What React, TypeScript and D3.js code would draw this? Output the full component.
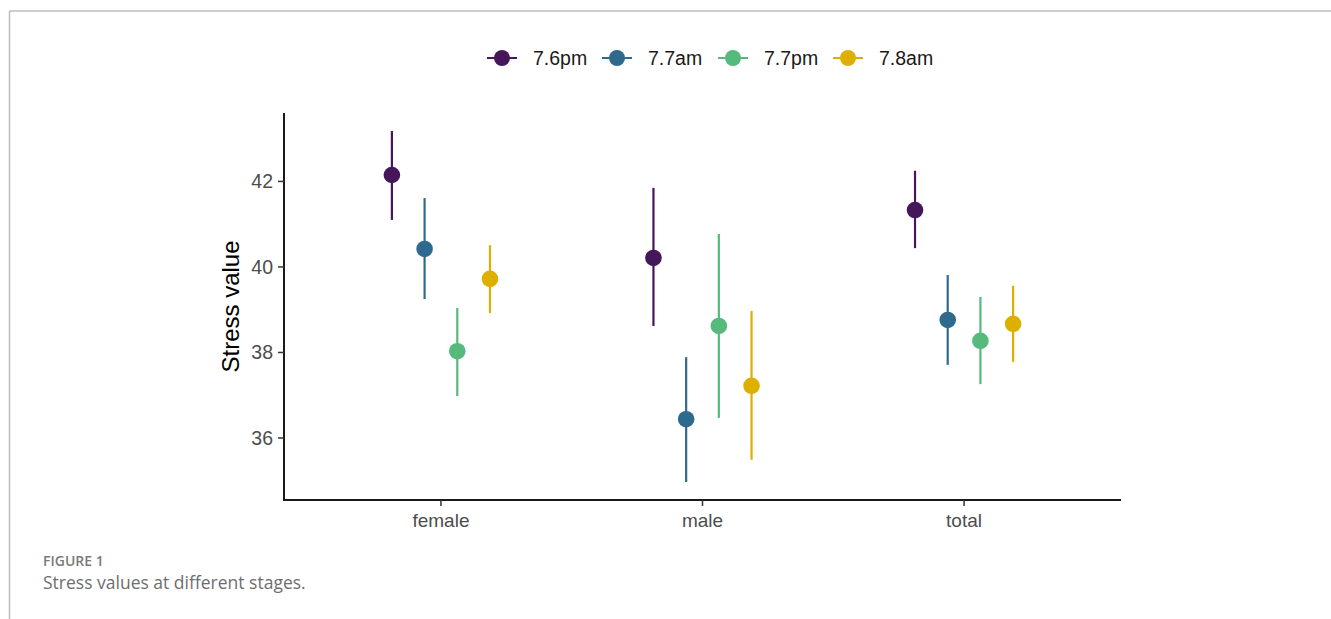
import React from "react";
import * as d3 from "d3";

const categories = ["female", "male", "total"];
const seriesNames = ["7.6pm", "7.7am", "7.7pm", "7.8am"];
const seriesColors = ["#45175A", "#2E6A8E", "#56BA7D", "#DDB000"];

// mean, lower, upper for each series per category
const means7_6pm = [42.15, 40.21, 41.33];
const lower7_6pm = [41.1, 38.62, 40.44];
const upper7_6pm = [43.18, 41.85, 42.25];

const means7_7am = [40.42, 36.44, 38.76];
const lower7_7am = [39.25, 34.97, 37.71];
const upper7_7am = [41.61, 37.89, 39.81];

const means7_7pm = [38.03, 38.62, 38.27];
const lower7_7pm = [36.98, 36.47, 37.26];
const upper7_7pm = [39.04, 40.77, 39.3];

const means7_8am = [39.72, 37.22, 38.67];
const lower7_8am = [38.92, 35.49, 37.78];
const upper7_8am = [40.51, 38.97, 39.56];

const yTicks = [36, 38, 40, 42];

const seriesData = [
  { mean: means7_6pm, lo: lower7_6pm, hi: upper7_6pm },
  { mean: means7_7am, lo: lower7_7am, hi: upper7_7am },
  { mean: means7_7pm, lo: lower7_7pm, hi: upper7_7pm },
  { mean: means7_8am, lo: lower7_8am, hi: upper7_8am },
];

export default function App() {
  const W = 1331;
  const H = 619;
  const plotL = 284;
  const plotR = 1121;
  const plotT = 113;
  const plotB = 500;

  const y = d3.scaleLinear().domain([34.55, 43.6]).range([plotB, plotT]);
  const x = d3
    .scaleLinear()
    .domain([-0.6, categories.length - 1 + 0.6])
    .range([plotL, plotR]);
  const dodge = 0.5;
  const n = seriesNames.length;
  const offset = (i: number) => -dodge / 2 + (dodge / n) * (i + 0.5);

  const font = "'Liberation Sans', Arimo, Arial, Helvetica, sans-serif";

  const legendX = [502, 617, 733, 848];

  return (
    <svg
      width={W}
      height={H}
      style={{ position: "absolute", left: 0, top: 0, background: "#fff" }}
    >
      {/* frame */}
      <line x1={9.5} y1={11} x2={W} y2={11} stroke="#bdbdbd" strokeWidth={1.5} />
      <line x1={9.5} y1={11} x2={9.5} y2={H} stroke="#bdbdbd" strokeWidth={1.5} />

      {/* legend */}
      {seriesNames.map((s, i) => (
        <g key={s}>
          <line
            x1={legendX[i] - 15}
            x2={legendX[i] + 15}
            y1={58}
            y2={58}
            stroke={seriesColors[i]}
            strokeWidth={2}
          />
          <circle cx={legendX[i]} cy={58} r={8} fill={seriesColors[i]} />
          <text
            x={legendX[i] + 31}
            y={58}
            dy="0.35em"
            style={{ fontFamily: font }}
            fontSize={19.5}
            fill="#1a1a1a"
          >
            {s}
          </text>
        </g>
      ))}

      {/* axes */}
      <line x1={plotL} x2={plotL} y1={plotT} y2={plotB + 1} stroke="#1a1a1a" strokeWidth={2} />
      <line x1={plotL - 1} x2={plotR} y1={plotB} y2={plotB} stroke="#1a1a1a" strokeWidth={2} />

      {yTicks.map((t) => (
        <g key={t}>
          <line
            x1={plotL - 6}
            x2={plotL}
            y1={y(t)}
            y2={y(t)}
            stroke="#333"
            strokeWidth={1.5}
          />
          <text
            x={plotL - 11}
            y={y(t)}
            dy="0.35em"
            textAnchor="end"
            style={{ fontFamily: font }}
            fontSize={19.5}
            fill="#4d4d4d"
          >
            {t}
          </text>
        </g>
      ))}

      {categories.map((c, ci) => (
        <g key={c}>
          <line
            x1={x(ci)}
            x2={x(ci)}
            y1={plotB}
            y2={plotB + 6}
            stroke="#333"
            strokeWidth={1.5}
          />
          <text
            x={x(ci)}
            y={plotB + 20}
            dy="0.35em"
            textAnchor="middle"
            style={{ fontFamily: font }}
            fontSize={19}
            fill="#4d4d4d"
          >
            {c}
          </text>
        </g>
      ))}

      <text
        transform={`translate(239,${(plotT + plotB) / 2}) rotate(-90)`}
        textAnchor="middle"
        style={{ fontFamily: font }}
        fontSize={24}
        fill="#000"
      >
        Stress value
      </text>

      {/* data */}
      {seriesData.map((sd, si) =>
        categories.map((c, ci) => {
          const cx = x(ci + offset(si));
          return (
            <g key={`${si}-${ci}`}>
              <line
                x1={cx}
                x2={cx}
                y1={y(sd.lo[ci])}
                y2={y(sd.hi[ci])}
                stroke={seriesColors[si]}
                strokeWidth={2.2}
              />
              <circle cx={cx} cy={y(sd.mean[ci])} r={8.3} fill={seriesColors[si]} />
            </g>
          );
        })
      )}

      {/* caption */}
      <text x={43} y={566} style={{ fontFamily: "'Open Sans', sans-serif" }} fontSize={14} fontWeight={600} fill="#7a7a7a">
        FIGURE 1
      </text>
      <text x={43} y={589} style={{ fontFamily: "'Open Sans', sans-serif" }} fontSize={17.5} fill="#6e6e6e">
        Stress values at different stages.
      </text>
    </svg>
  );
}
